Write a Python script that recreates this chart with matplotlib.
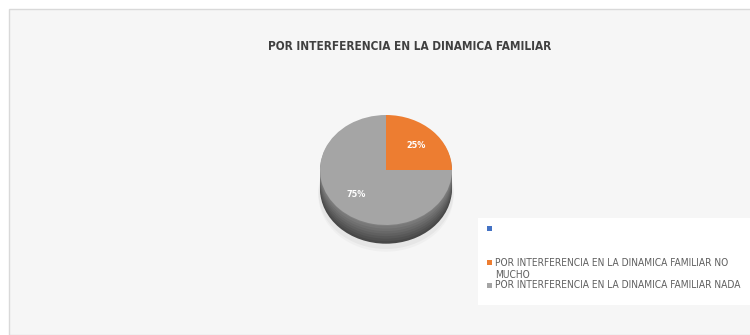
import matplotlib.pyplot as plt
from matplotlib.patches import Ellipse, Rectangle

title = 'POR INTERFERENCIA EN LA DINAMICA FAMILIAR'
categories = ['',
              'POR INTERFERENCIA EN LA DINAMICA FAMILIAR NO\nMUCHO',
              'POR INTERFERENCIA EN LA DINAMICA FAMILIAR NADA']
values = [0, 25, 75]
colors = ['#4472c4', '#ed7d31', '#a5a5a5']

FONT = dict(family='DejaVu Sans', fontstretch='condensed')
W, H = 750, 335


def fx(px):
    return px / W


def fy(py):
    return 1 - py / H


def main():
    fig = plt.figure(figsize=(W / 100, H / 100), dpi=100)

    # light chart area with a thin border
    fig.patches.append(Rectangle((fx(9), 0), 1, fy(9), transform=fig.transFigure,
                                 facecolor='#f6f6f6', edgecolor='#d9d9d9', lw=1, zorder=-5))

    fig.text(fx(410), fy(46), title, ha='center', va='center', fontsize=8.5,
             fontweight='bold', color='#404040', **FONT)

    ax = fig.add_axes([fx(320), fy(225), fx(132), 110 / H])
    ax.set_zorder(1)

    # soft shadow and shaded rim under the top face
    for dy, a in [(0.46, 0.05), (0.41, 0.08)]:
        ax.add_patch(Ellipse((0, -dy), 2.05, 2.05, color='#808080', alpha=a, lw=0, clip_on=False))
    steps = 8
    for i in range(steps):
        t = i / (steps - 1)
        shade = int(0x48 + t * (0x80 - 0x48))
        ax.add_patch(Ellipse((0, -0.32 * (1 - t) - 0.02), 2.0, 2.0,
                             color=f'#{shade:02x}{shade:02x}{shade:02x}', lw=0, clip_on=False))

    ax.pie(values, colors=colors, startangle=90, counterclock=False,
           autopct=lambda p: f'{p:.0f}%' if p > 0 else '', pctdistance=0.64,
           wedgeprops=dict(linewidth=0),
           textprops=dict(color='white', fontsize=6.5, fontweight='bold', **FONT))
    ax.set_aspect('auto')
    ax.set_xlim(-1, 1)
    ax.set_ylim(-1, 1)
    ax.axis('off')

    # legend box
    fig.patches.append(Rectangle((fx(478), fy(305)), 1, (305 - 218) / H,
                                 transform=fig.transFigure, facecolor='white',
                                 edgecolor='none', zorder=2))
    rows = [228, 262, 285]
    for label, color, row in zip(categories, colors, rows):
        fig.patches.append(Rectangle((fx(487), fy(row + 2.5)), fx(5), 5 / H,
                                     transform=fig.transFigure, facecolor=color,
                                     edgecolor='none', zorder=3))
        fig.text(fx(495), fy(row - 4.5), label, ha='left', va='top', fontsize=7.3,
                 color='#606060', linespacing=1.25, zorder=4, **FONT)

    fig.savefig('out.png', dpi=100)


if __name__ == '__main__':
    main()
